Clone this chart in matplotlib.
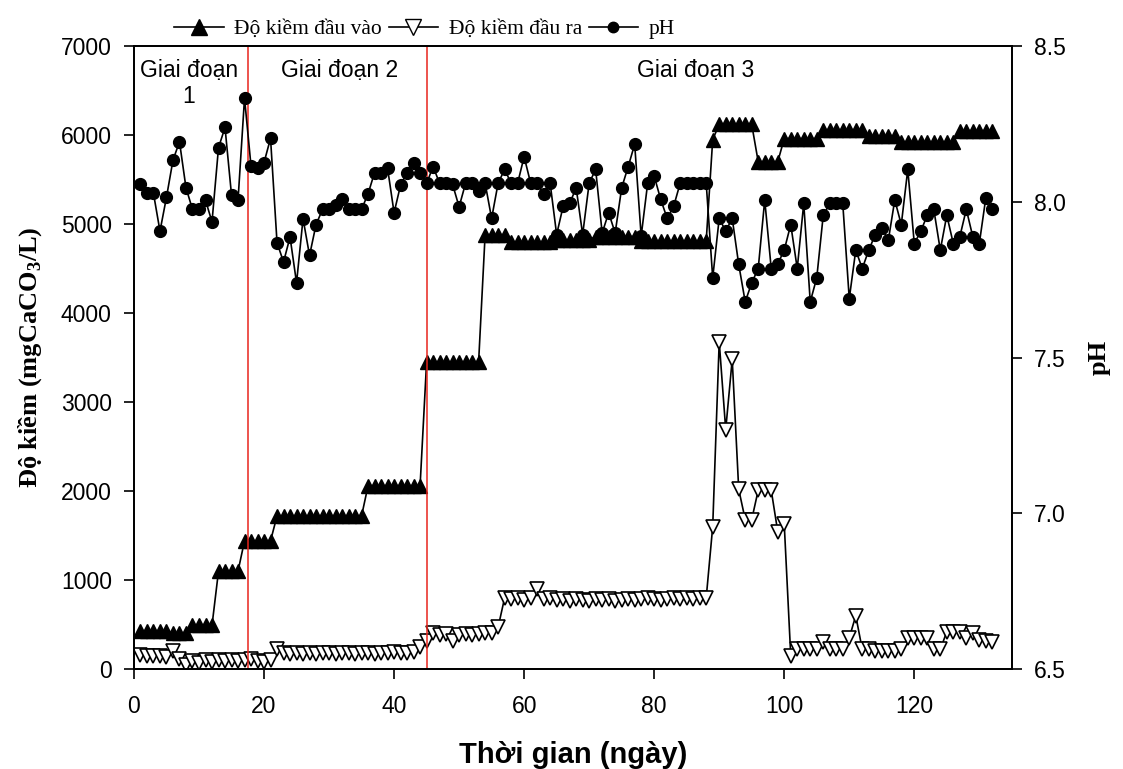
import numpy as np
import matplotlib
matplotlib.use('Agg')
import matplotlib.pyplot as plt
from matplotlib.lines import Line2D

plt.rcParams['font.family'] = ['Liberation Sans', 'DejaVu Sans']

days = np.arange(1, 133)

# Do kiem dau vao (mgCaCO3/L)
kiem_vao = ([430] * 5 + [400] * 3 + [490] * 4 + [1100] * 4 + [1440] * 5 +
            [1720] * 14 + [2060] * 9 + [3450] * 9 + [4880] * 4 + [4800] * 7 +
            [4820] * 6 + [4860] * 7 + [4810] * 11 + [5950] + [6120] * 6 +
            [5700] * 4 + [5960] * 6 + [6060] * 7 + [5990] * 5 + [5920] * 9 +
            [6050] * 6)

# Do kiem dau ra (mgCaCO3/L)
kiem_ra = ([160, 150, 150, 150, 140, 200, 110, 50] +
           [90, 70, 100, 80, 100, 90, 100, 90, 100, 110, 90, 80, 100] +
           [220] +
           [180, 170, 180, 170, 180, 170, 180, 180, 170, 180, 180, 170, 180,
            180, 170, 180, 180, 190, 180, 180, 190] +
           [250, 320] +
           [400, 380, 390, 320, 380, 390, 380, 390, 400, 410, 470] +
           [800, 790, 800, 780, 800, 900] +
           [790, 800, 780, 790, 770, 790, 780, 770, 790, 780, 790, 770, 780,
            790, 780, 790, 800, 790, 780, 790, 800, 790, 800, 790, 800, 800] +
           [1600, 3680, 2690, 3480, 2020, 1680, 1680, 2010, 2010, 2010, 1545, 1630] +
           [150, 220, 220, 220, 220, 300, 220, 220, 220, 350, 600,
            220, 220, 200, 200, 200, 200, 220, 350, 350, 350, 350,
            220, 220, 420, 420, 420, 350, 400, 330, 310, 300])

# pH
ph = [8.056, 8.027, 8.027, 7.906, 8.015, 8.134, 8.193, 8.045, 7.976, 7.976,
      8.005, 7.936, 8.174, 8.239, 8.022, 8.005, 8.333, 8.115, 8.110, 8.126,
      8.204, 7.869, 7.807, 7.887, 7.740, 7.946, 7.828, 7.927, 7.976, 7.976,
      7.990, 8.008, 7.976, 7.976, 7.976, 8.026, 8.094, 8.094, 8.108, 7.965,
      8.054, 8.094, 8.126, 8.094, 8.059, 8.113, 8.060, 8.060, 8.056, 7.984,
      8.060, 8.060, 8.034, 8.060, 7.947, 8.060, 8.104, 8.060, 8.060, 8.145,
      8.060, 8.060, 8.024, 8.060, 7.895, 7.986, 7.995, 8.045, 7.895, 8.060,
      8.104, 7.900, 7.965, 7.900, 8.045, 8.113, 8.185, 7.890, 8.060, 8.083,
      8.008, 7.947, 7.986, 8.060, 8.060, 8.060, 8.060, 8.060, 7.756, 7.947,
      7.906, 7.947, 7.799, 7.679, 7.740, 7.786, 8.006, 7.786, 7.801, 7.845,
      7.927, 7.786, 7.995, 7.679, 7.756, 7.957, 7.995, 7.995, 7.995, 7.689,
      7.845, 7.786, 7.845, 7.895, 7.917, 7.876, 8.006, 7.927, 8.104, 7.866,
      7.906, 7.957, 7.976, 7.845, 7.957, 7.866, 7.888, 7.976, 7.888, 7.866,
      8.013, 7.976]

stage_bounds = [17.5, 45]

fig = plt.figure(figsize=(11.23, 7.69), dpi=100)
ax = fig.add_axes([0.1193, 0.130, 0.7817, 0.810])
ax2 = ax.twinx()

ax.plot(days, kiem_vao, color='black', lw=1.2, marker='^', ms=10,
        mfc='black', mec='black')
ax.plot(days, kiem_ra, color='black', lw=1.2, marker='v', ms=10,
        mfc='white', mec='black', mew=1.2)
ax2.plot(days, ph, color='black', lw=1.2, marker='o', ms=8.5,
         mfc='black', mec='black')

for b in stage_bounds:
    ax.axvline(b, color='#e8241c', lw=1.1)

ax.set_xlim(0, 135)
ax.set_ylim(0, 7000)
ax2.set_ylim(6.5, 8.5)
ax.set_xticks(np.arange(0, 121, 20))
ax.set_yticks(np.arange(0, 7001, 1000))
ax2.set_yticks(np.arange(6.5, 8.51, 0.5))
ax2.set_yticklabels(['%.1f' % v for v in np.arange(6.5, 8.51, 0.5)])

for a in (ax, ax2):
    a.tick_params(direction='out', length=7, width=1.2, labelsize=16.5,
                  colors='black', pad=9)
    for s in a.spines.values():
        s.set_linewidth(1.3)
ax.tick_params(axis='x', pad=12)

ax.set_xlabel('Thời gian (ngày)', fontsize=21, fontweight='bold', labelpad=16)
ax.set_ylabel('Độ kiềm (mgCaCO$_\\mathregular{3}$/L)', fontsize=19,
              fontweight='bold', family='Liberation Serif', labelpad=12)
ax2.set_ylabel('pH', fontsize=19, fontweight='bold', family='Liberation Serif',
               labelpad=16)

ax.text(8.4, 6850, 'Giai đoạn\n1', ha='center', va='top', fontsize=16.5,
        linespacing=1.15)
ax.text(31.6, 6850, 'Giai đoạn 2', ha='center', va='top', fontsize=16.5)
ax.text(86.3, 6850, 'Giai đoạn 3', ha='center', va='top', fontsize=16.5)

handles = [
    Line2D([], [], color='black', lw=1.2, marker='^', ms=11, mfc='black'),
    Line2D([], [], color='black', lw=1.2, marker='v', ms=11, mfc='white'),
    Line2D([], [], color='black', lw=1.2, marker='o', ms=7.5, mfc='black'),
]
fig.legend(handles, ['Độ kiềm đầu vào', 'Độ kiềm đầu ra', 'pH'],
           loc='center', bbox_to_anchor=(0.378, 0.962), ncol=3, frameon=False,
           prop={'family': 'Liberation Serif', 'size': 15.5},
           handlelength=2.3, columnspacing=0.3, handletextpad=0.5)

fig.savefig('out.png', dpi=100)
